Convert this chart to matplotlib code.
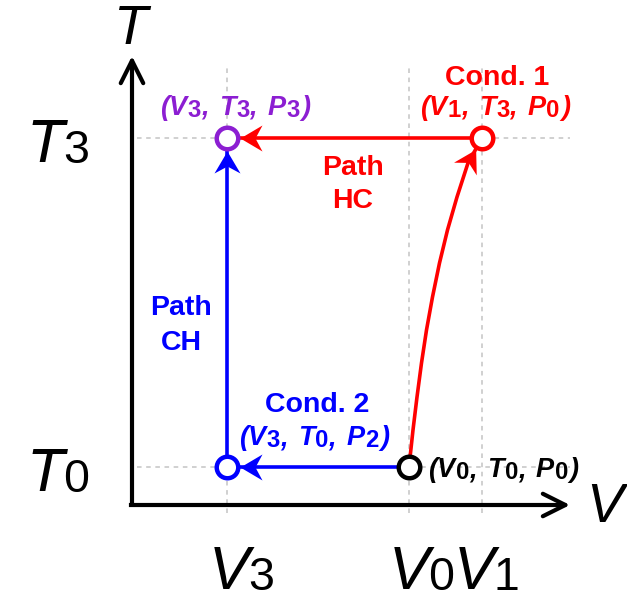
import numpy as np
import matplotlib
matplotlib.use('Agg')
import matplotlib.pyplot as plt
from matplotlib.path import Path
from matplotlib.markers import MarkerStyle
from matplotlib.transforms import Affine2D, offset_copy

plt.rcParams['font.family'] = ['Liberation Sans', 'DejaVu Sans']

# state coordinates (arbitrary units)
V3, V0, V1 = 0.95, 2.77, 3.50
T0, T3 = 0.38, 3.67

# heating path at constant P0, from (V0,T0) to (V1,T3)
hc_v = [2.77, 2.81, 2.85, 2.895, 2.945, 3.005, 3.075, 3.155, 3.25, 3.36, 3.50]
hc_t = [0.38, 0.75, 1.08, 1.42, 1.75, 2.08, 2.42, 2.75, 3.08, 3.42, 3.67]

RED = '#ff0000'
BLUE = '#0000ff'
PURPLE = '#8c1ed2'
GRID = '#c4c4c4'

fig = plt.figure(figsize=(6.27, 6.03), dpi=100)
ax = fig.add_axes([0, 0, 1, 1])
ax.set_xlim(-1.32, 4.95)
ax.set_ylim(-0.98, 5.05)
ax.axis('off')
renderer = fig.canvas.get_renderer()


def rich(x, y, pieces, fs, color, ha='center', weight='bold', sub=0.85, drop=1.5):
    """Lay out text pieces on one baseline. piece = (text, italic, subscript) or a gap (float, em)."""
    items = []
    for p in pieces:
        if isinstance(p, float):
            items.append((None, p * fs, False))
            continue
        s, it, is_sub = p
        t = ax.text(x, y, s, fontsize=fs * (sub if is_sub else 1.0),
                    fontstyle='italic' if it else 'normal', fontweight=weight,
                    color=color, ha='left', va='baseline', zorder=6)
        w = t.get_window_extent(renderer).width * 72 / fig.dpi
        items.append((t, w, is_sub))
    total = sum(w for _, w, _ in items)
    pos = -total / 2 if ha == 'center' else 0.0
    for t, w, is_sub in items:
        if t is not None:
            t.set_transform(offset_copy(ax.transData, fig=fig, x=pos,
                                        y=-drop if is_sub else 0, units='points'))
        pos += w


def state(x, y, subs, color, fs=19.5, ha='center'):
    pieces = [('(', True, False)]
    for i, (letter, s) in enumerate(zip('VTP', subs)):
        if i:
            pieces += [(',', True, False), 0.38]
        pieces += [(letter, True, False), 0.03, (s, False, True)]
    pieces += [0.05, (')', True, False)]
    rich(x, y, pieces, fs, color, ha=ha, sub=0.88)


def big(x, y, letter, s):
    rich(x, y, [(letter, True, False), -0.02, (s, False, True)], 44, 'black',
         weight='normal', sub=0.76, drop=1.0)


# concave arrow head whose tip sits on the rim of a state circle
R, L, W, N = 13, 22, 26, 7
head_path = Path([(R, 0), (R + L, W / 2), (R + L - N, 0), (R + L, -W / 2), (R, 0)],
                 [Path.MOVETO, Path.LINETO, Path.LINETO, Path.LINETO, Path.CLOSEPOLY])


def head(v, t, dv, dt, color):
    ang = np.degrees(np.arctan2(dt, dv))
    m = MarkerStyle(head_path, transform=Affine2D().rotate_deg(ang - 180))
    ax.plot([v], [t], marker=m, ms=2 * (R + L) * 0.72, color=color, mew=0,
            ls='none', zorder=4)


# guide lines
for v in (V3, V0, V1):
    ax.plot([v, v], [-0.08, 4.37], ls=(0, (3, 3)), color=GRID, lw=1.1, zorder=1)
for t in (T0, T3):
    ax.plot([0.05, 4.38], [t, t], ls=(0, (3, 3)), color=GRID, lw=1.1, zorder=1)

# axes with arrows
for end in ((4.38, 0), (0, 4.49)):
    ax.annotate('', xy=end, xytext=(0, 0),
                arrowprops=dict(arrowstyle='->,head_length=0.9,head_width=0.45',
                                mutation_scale=18, color='black', lw=3.0,
                                shrinkA=1.5, shrinkB=0))
ax.plot([-0.015, 0.0], [0, 0], color='black', lw=3.0, solid_capstyle='projecting')

ax.text(-0.02, 4.75, 'T', fontsize=40, fontstyle='italic', ha='center', va='center')
ax.text(4.73, -0.03, 'V', fontsize=40, fontstyle='italic', ha='center', va='center')
big(-0.74, 3.43, 'T', '3')
big(-0.74, 0.14, 'T', '0')
big(1.09, -0.84, 'V', '3')
big(2.895, -0.84, 'V', '0')
big(3.545, -0.84, 'V', '1')

# path CH
ax.plot([V0, V3, V3], [T0, T0, T3], color=BLUE, lw=2.6, zorder=2)
head(V3, T0, -1, 0, BLUE)
head(V3, T3, 0, 1, BLUE)

# path HC
ax.plot(hc_v, hc_t, color=RED, lw=2.6, zorder=2)
ax.plot([V1, V3], [T3, T3], color=RED, lw=2.6, zorder=2)
head(V1, T3, hc_v[-1] - hc_v[-2], hc_t[-1] - hc_t[-2], RED)
head(V3, T3, -1, 0, RED)

# states
mk = dict(marker='o', ms=15.5, mew=3.2, mfc='white', ls='none', zorder=5)
ax.plot([V3], [T3], mec=PURPLE, **mk)
ax.plot([V1], [T3], mec=RED, **mk)
ax.plot([V3], [T0], mec=BLUE, **mk)
ax.plot([V0], [T0], mec='black', **mk)

state(1.03, 3.90, '333', PURPLE)
rich(3.65, 4.20, [('Cond. 1', False, False)], 20.5, RED)
state(3.63, 3.90, '130', RED)
rich(2.21, 3.30, [('Path', False, False)], 20.5, RED)
rich(2.21, 2.97, [('HC', False, False)], 20.5, RED)
rich(0.49, 1.90, [('Path', False, False)], 20.5, BLUE)
rich(0.49, 1.55, [('CH', False, False)], 20.5, BLUE)
rich(1.85, 0.93, [('Cond. 2', False, False)], 20.5, BLUE)
state(1.82, 0.60, '302', BLUE)
state(2.96, 0.28, '000', 'black', ha='left')

fig.savefig('out.png', dpi=100)
